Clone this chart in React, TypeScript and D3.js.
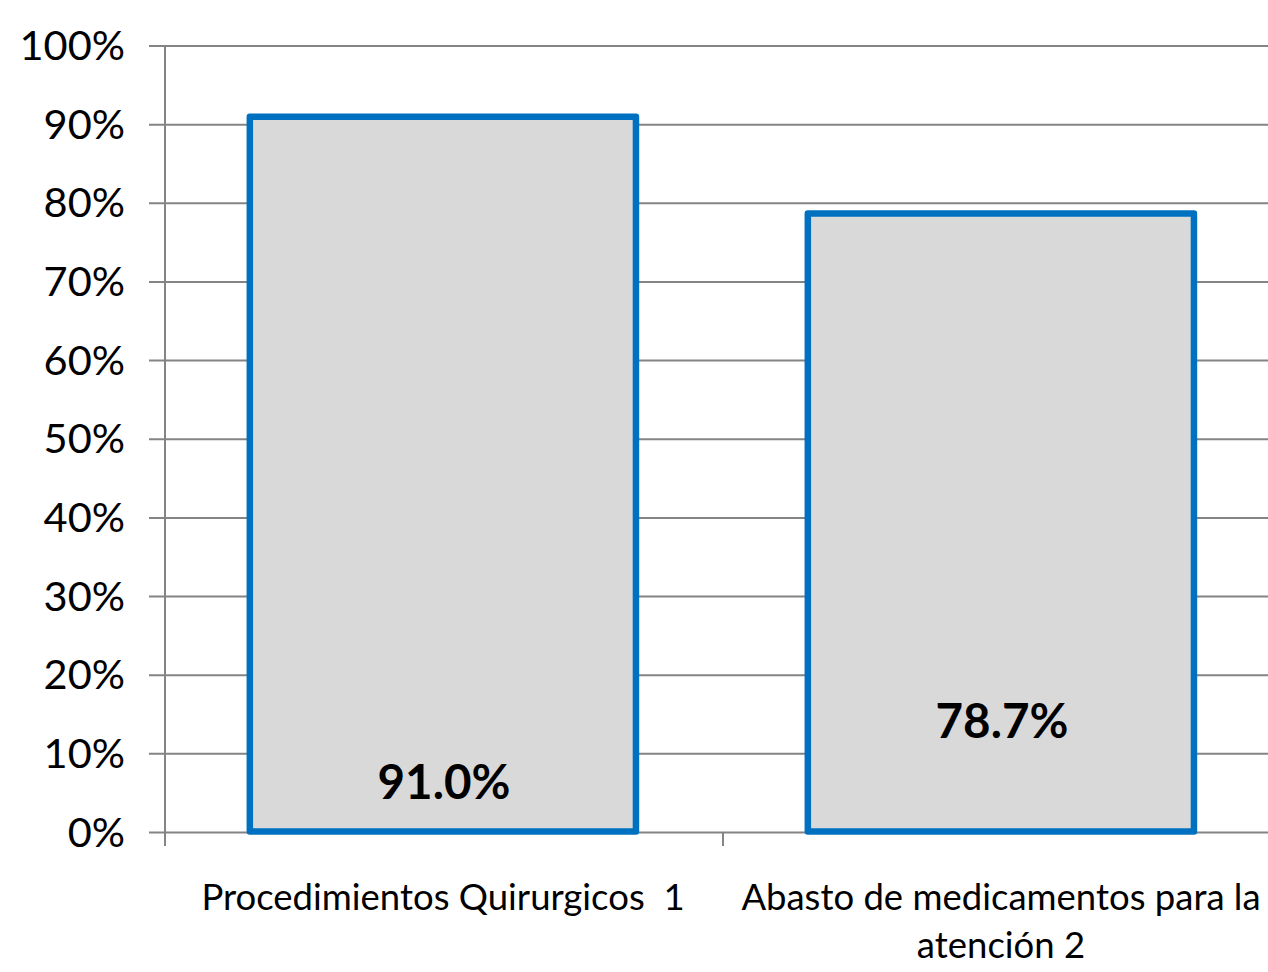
import React from "react";
import * as d3 from "d3";

const categories: string[][] = [
  ["Procedimientos Quirurgicos  1"],
  ["Abasto de medicamentos para la", "atención 2"],
];
const values: number[] = [0.91, 0.787];
const valueLabels: string[] = ["91.0%", "78.7%"];
const labelAnchors: number[] = [0.043, 0.12];
const yTicks: number[] = [0, 0.1, 0.2, 0.3, 0.4, 0.5, 0.6, 0.7, 0.8, 0.9, 1.0];

const W = 1268;
const H = 972;
const FONT = "Lato, 'Open Sans', sans-serif";

export default function App() {
  const y = d3.scaleLinear().domain([0, 1]).range([832.5, 46]);
  const x = d3
    .scaleBand<number>()
    .domain(values.map((_, i) => i))
    .range([165, 1281])
    .padding(0);
  const bw = x.bandwidth();
  const fmt = d3.format(".0%");
  const grid = "#848484";

  return (
    <svg
      width={W}
      height={H}
      style={{ position: "absolute", left: 0, top: 0, display: "block", background: "#fff" }}
    >
      {yTicks.map((t) => (
        <g key={t}>
          <line x1={149} x2={1281} y1={y(t)} y2={y(t)} stroke={grid} strokeWidth={2} />
          <text
            x={125}
            y={y(t) + 14}
            textAnchor="end"
            fontFamily={FONT}
            fontSize={41.5}
            fill="#000"
          >
            {fmt(t)}
          </text>
        </g>
      ))}
      <line x1={165} x2={165} y1={y(1)} y2={846} stroke={grid} strokeWidth={2} />
      {values.map((_, i) =>
        i > 0 ? (
          <line key={i} x1={x(i)!} x2={x(i)!} y1={y(0)} y2={846} stroke={grid} strokeWidth={2} />
        ) : null
      )}
      {values.map((v, i) => {
        const x0 = x(i)! + bw * 0.152;
        const w = bw * 0.692;
        return (
          <rect
            key={i}
            x={x0}
            y={y(v)}
            width={w}
            height={y(0) - y(v) - 1}
            fill="#D9D9D9"
            stroke="#0070C0"
            strokeWidth={6.5}
            strokeLinejoin="round"
          />
        );
      })}
      {values.map((_, i) => (
        <text
          key={i}
          x={x(i)! + bw / 2}
          y={y(labelAnchors[i])}
          textAnchor="middle"
          fontFamily={FONT}
          fontWeight="bold"
          fontSize={47.5}
          fill="#000"
        >
          {valueLabels[i]}
        </text>
      ))}
      {categories.map((lines, i) => (
        <text
          key={i}
          y={910}
          textAnchor="middle"
          fontFamily={FONT}
          fontSize={36.5}
          fill="#000"
          style={{ whiteSpace: "pre" }}
        >
          {lines.map((l, j) => (
            <tspan key={j} x={i === 1 ? 1001 : x(i)! + bw / 2 - 1} dy={j === 0 ? 0 : 48}>
              {l}
            </tspan>
          ))}
        </text>
      ))}
    </svg>
  );
}
